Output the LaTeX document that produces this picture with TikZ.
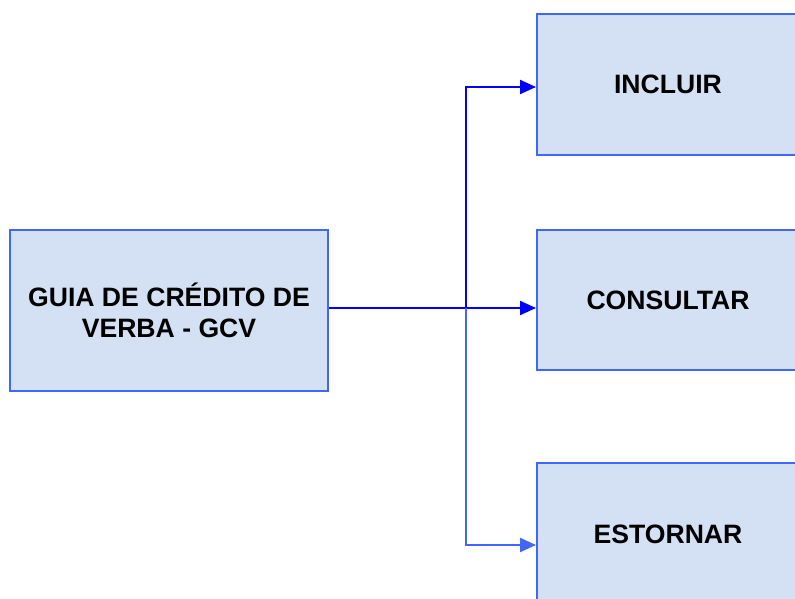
\documentclass[tikz,border=0pt]{standalone}
\usepackage{fontspec}
\setmainfont{Liberation Sans}
\usepackage{tikz}
\usetikzlibrary{arrows.meta, positioning}
\definecolor{caixafundo}{RGB}{212,224,244}
\definecolor{caixaborda}{RGB}{64,102,255}
\definecolor{seta}{RGB}{0,0,255}
\tikzset{
	caixa/.style={draw=caixaborda, fill=caixafundo, line width=1pt, align=center,
		font=\fontsize{13.3}{15.5}\selectfont\bfseries, inner sep=0pt},
	ligacao/.style={draw=seta, line width=1.1pt, -{Triangle[length=8pt,width=7pt]}}
}

\begin{document}
\begin{tikzpicture}[x=0.5pt,y=-0.5pt]
		\clip (0,0) rectangle (795,598);
		\useasboundingbox (0,0) rectangle (795,598);
		\draw (169,310.5) node[caixa, minimum width=159pt, minimum height=80.5pt] (gcv) {GUIA DE CRÉDITO DE\\VERBA - GCV}
		(668,84.5) node[caixa, minimum width=131pt, minimum height=70.5pt] (incluir) {INCLUIR}
		(668,300) node[caixa, minimum width=131pt, minimum height=70pt] (consultar) {CONSULTAR}
		(668,534) node[caixa, minimum width=131pt, minimum height=71pt] (estornar) {ESTORNAR};
		\coordinate (tronco) at (466,308);
		
		\draw[ligacao] (gcv.east |- tronco) -- (consultar.west |- tronco);
		\draw[ligacao] (tronco) |- ([yshift=-1.25pt]incluir.west);
		\draw[ligacao, draw=caixaborda] (tronco) |- ([yshift=-5.5pt]estornar.west);
	\end{tikzpicture}
\end{document}
